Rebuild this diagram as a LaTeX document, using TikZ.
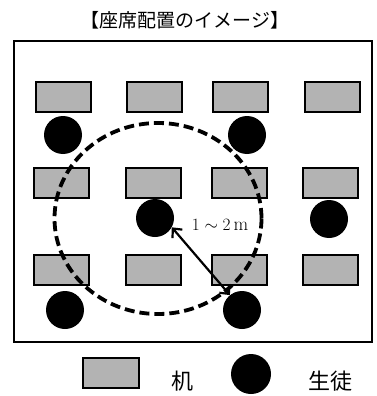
\documentclass[tikz,border=0pt]{standalone}
\usepackage{fontspec}
\newfontfamily\jp{Noto Sans CJK JP}
\usetikzlibrary{arrows.meta}
\definecolor{deskgray}{RGB}{179,179,179}
\tikzset{
  desk/.style={draw=black, line width=2pt, fill=deskgray, rectangle, minimum width=55pt, minimum height=30pt, inner sep=0pt},
  pupil/.style={circle, fill=black, minimum size=38pt, inner sep=0pt},
  room/.style={draw=black, line width=2pt},
  zone/.style={draw=black, line width=3.8pt, dash pattern=on 10pt off 5pt},
  dist/.style={line width=2.2pt, {Straight Barb[length=7pt,width=13pt,line width=2.2pt]}-{Straight Barb[length=7pt,width=13pt,line width=2.2pt]}},
  jptext/.style={font=\jp, inner sep=0pt}
}
\begin{document}
\begin{tikzpicture}[x=1pt,y=-1pt]
\useasboundingbox (0,0) rectangle (377,396);
\node[jptext, font=\jp\fontsize{19}{21}\selectfont] (title) at (185,20) {【座席配置のイメージ】};
\draw[room] (14,41) rectangle (372,342);
% desks
\node[desk] (d11) at (63.5,96.5) {};
\node[desk] (d12) at (154,96.5) {};
\node[desk] (d13) at (240.5,96.5) {};
\node[desk] (d14) at (332.5,96.5) {};
\node[desk] (d21) at (61.5,183) {};
\node[desk] (d22) at (153,183) {};
\node[desk] (d23) at (239.5,183) {};
\node[desk] (d24) at (330.5,183) {};
\node[desk] (d31) at (61.5,269.5) {};
\node[desk] (d32) at (153,269.5) {};
\node[desk] (d33) at (239.5,269.5) {};
\node[desk] (d34) at (330.5,269.5) {};
% pupils
\node[pupil] (s11) at (63,135) {};
\node[pupil] (s12) at (247,135) {};
\node[pupil] (s21) at (155,218) {};
\node[pupil] (s22) at (329,219) {};
\node[pupil] (s31) at (65,310) {};
\node[pupil] (s32) at (242,310) {};
% zone
\draw[zone] (158,218.5) ellipse [x radius=103.5, y radius=95.5];
% distance
\draw[dist] (s21.-29) -- (s32.129);
\node[inner sep=0pt, font=\fontsize{19}{22}\selectfont] (lbl) at (220,225) {$1\sim2\,\mathrm{m}$};
% legend
\node[desk, minimum width=56pt] (ldesk) at (111,373) {};
\node[jptext, font=\jp\fontsize{22}{24}\selectfont] (ldesktxt) at (182,381) {机};
\node[pupil, minimum size=40pt] (lpupil) at (251,374) {};
\node[jptext, font=\jp\fontsize{22}{24}\selectfont] (lpupiltxt) at (330,381) {生徒};
\end{tikzpicture}
\end{document}
